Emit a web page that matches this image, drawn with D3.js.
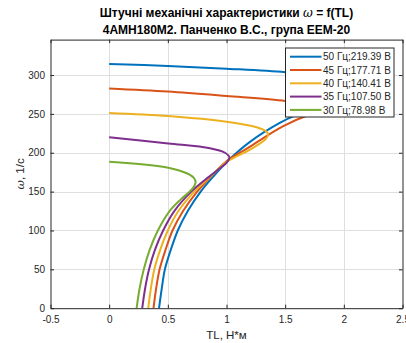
<!DOCTYPE html>
<html>
<head>
<meta charset="utf-8">
<script src="https://cdn.jsdelivr.net/npm/d3@7/dist/d3.min.js"></script>
<style>
  html, body { margin: 0; padding: 0; background: #fff; }
  svg { display: block; font-family: "Liberation Sans", Arial, sans-serif; }
</style>
</head>
<body>
<svg id="chart" width="406" height="343"></svg>
<script>
// Supply frequencies and phase voltages of each characteristic
const frequencies = [50, 45, 40, 35, 30];
const voltages = ["219.39", "177.71", "140.41", "107.50", "78.98"];
const seriesColors = ["#0072BD", "#D95319", "#EDB120", "#7E2F8E", "#77AC30"];

// Torque TL (Н*м) along each curve, from no-load speed down to standstill
const torque50 = [0, 0.5, 1.0, 1.5, 1.85, 2.05, 2.12, 2.05, 1.85, 1.6, 1.45, 1.2, 1.015, 0.885, 0.78, 0.67, 0.585, 0.525, 0.475, 0.448, 0.425];
const omega50  = [314.2, 311.7, 308.2, 303.6, 297, 291, 286, 278, 263, 249, 238, 214, 190, 169, 150, 125, 100, 75, 50, 25, 0];

const torque45 = [0, 0.5, 1.0, 1.5, 1.7, 1.78, 1.76, 1.7, 1.48, 1.18, 1.0, 0.865, 0.75, 0.63, 0.54, 0.48, 0.43, 0.40, 0.378];
const omega45  = [282.7, 278.7, 273, 266.7, 262, 256, 251, 248.6, 234, 206, 189, 169, 150, 125, 100, 75, 50, 25, 0];

const torque40 = [0, 0.5, 1.0, 1.257, 1.343, 1.355, 1.33, 1.2, 1.0, 0.86, 0.725, 0.59, 0.50, 0.435, 0.385, 0.355, 0.333];
const omega40  = [251.3, 247.4, 240, 232.8, 227, 223, 217, 204, 188, 169, 150, 125, 100, 75, 50, 25, 0];

const torque35 = [0, 0.504, 0.859, 0.987, 1.025, 1.0, 0.96, 0.85, 0.70, 0.555, 0.46, 0.39, 0.34, 0.306, 0.282];
const omega35  = [219.9, 212, 205.8, 200, 194, 187, 182, 169, 150, 125, 100, 75, 50, 25, 0];

const torque30 = [0, 0.504, 0.661, 0.72, 0.737, 0.72, 0.685, 0.61, 0.515, 0.415, 0.345, 0.295, 0.259, 0.234];
const omega30  = [188.5, 180.8, 173.6, 168, 162, 156, 150, 140, 125, 100, 75, 50, 25, 0];

const torqueSets = [torque50, torque45, torque40, torque35, torque30];
const omegaSets = [omega50, omega45, omega40, omega35, omega30];

const xTicks = [-0.5, 0, 0.5, 1, 1.5, 2, 2.5];
const yTicks = [0, 50, 100, 150, 200, 250, 300];

const svg = d3.select("#chart");
const plot = { left: 50.5, right: 402.5, top: 39.6, bottom: 308.2 };

const x = d3.scaleLinear().domain([-0.5, 2.5]).range([plot.left, plot.right]);
const y = d3.scaleLinear().domain([0, 345.6]).range([plot.bottom, plot.top]);

const axisColor = "#262626";

// Grid
const grid = svg.append("g").attr("stroke", "#dfdfdf").attr("stroke-width", 1);
grid.selectAll(".gx").data(xTicks.slice(1, -1)).join("line")
  .attr("x1", d => Math.round(x(d)) + 0.5).attr("x2", d => Math.round(x(d)) + 0.5)
  .attr("y1", plot.top).attr("y2", plot.bottom);
grid.selectAll(".gy").data(yTicks.slice(1)).join("line")
  .attr("y1", d => Math.round(y(d)) + 0.5).attr("y2", d => Math.round(y(d)) + 0.5)
  .attr("x1", plot.left).attr("x2", plot.right);

// Curves
const line = d3.line()
  .x(d => x(d[0]))
  .y(d => y(d[1]))
  .curve(d3.curveCatmullRom.alpha(0.5));

svg.append("defs").append("clipPath").attr("id", "plotClip")
  .append("rect").attr("x", plot.left).attr("y", plot.top)
  .attr("width", plot.right - plot.left).attr("height", plot.bottom - plot.top);

const curves = svg.append("g").attr("clip-path", "url(#plotClip)");
torqueSets.forEach((tq, i) => {
  const pts = tq.map((t, k) => [t, omegaSets[i][k]]);
  curves.append("path")
    .datum(pts)
    .attr("d", line)
    .attr("fill", "none")
    .attr("stroke", seriesColors[i])
    .attr("stroke-width", 2)
    .attr("stroke-linejoin", "round");
});

// Axes (box with inward ticks)
const tickLen = 3.5;
const fmt = d => String(d);
const axisBottom = d3.axisBottom(x).tickValues(xTicks).tickSizeInner(-tickLen).tickSizeOuter(0)
  .tickPadding(8).tickFormat(fmt);
const axisLeft = d3.axisLeft(y).tickValues(yTicks).tickSizeInner(-tickLen).tickSizeOuter(0)
  .tickPadding(5.5).tickFormat(fmt);
const axisTop = d3.axisTop(x).tickValues(xTicks).tickSizeInner(-tickLen).tickSizeOuter(0).tickFormat("");
const axisRight = d3.axisRight(y).tickValues(yTicks).tickSizeInner(-tickLen).tickSizeOuter(0).tickFormat("");

function styleAxis(g) {
  g.select(".domain").attr("stroke", axisColor).attr("stroke-width", 1);
  g.selectAll(".tick line").attr("stroke", axisColor);
  g.selectAll(".tick text").attr("fill", axisColor).style("font-size", "10px")
    .style("font-family", "Liberation Sans, Arial, sans-serif");
}

svg.append("g").attr("transform", `translate(0,${plot.bottom})`).call(axisBottom).call(styleAxis);
svg.append("g").attr("transform", `translate(${plot.left},0)`).call(axisLeft).call(styleAxis);
svg.append("g").attr("transform", `translate(0,${plot.top})`).call(axisTop).call(styleAxis);
svg.append("g").attr("transform", `translate(${plot.right},0)`).call(axisRight).call(styleAxis);

// Title
const title = svg.append("text")
  .attr("text-anchor", "middle")
  .attr("fill", "#000")
  .style("font-size", "12px")
  .style("font-weight", "bold");
const t1 = title.append("tspan").attr("x", (plot.left + plot.right) / 2).attr("y", 17);
t1.append("tspan").text("Штучні механічні характеристики ");
t1.append("tspan").style("font-weight", "normal").style("font-style", "italic")
  .style("font-family", "DejaVu Serif, serif").text("ω");
t1.append("tspan").text(" = f(TL)");
title.append("tspan").attr("x", (plot.left + plot.right) / 2).attr("y", 33.5)
  .text("4АМН180М2. Панченко В.С., група ЕЕМ-20");

// Axis labels
svg.append("text")
  .attr("x", (plot.left + plot.right) / 2).attr("y", 339)
  .attr("text-anchor", "middle").attr("fill", axisColor)
  .style("font-size", "11.5px")
  .text("TL, Н*м");

const yl = svg.append("text")
  .attr("transform", `translate(24,${(plot.top + plot.bottom) / 2}) rotate(-90)`)
  .attr("text-anchor", "middle").attr("fill", axisColor)
  .style("font-size", "11.5px");
yl.append("tspan").style("font-style", "italic").style("font-family", "DejaVu Serif, serif").text("ω");
yl.append("tspan").text(", 1/с");

// Legend
const legend = svg.append("g").attr("transform", "translate(285.5,48)");
legend.append("rect")
  .attr("width", 108.5).attr("height", 69)
  .attr("fill", "#fff").attr("stroke", axisColor).attr("stroke-width", 1);
frequencies.forEach((f, i) => {
  const ry = 8.7 + i * 13.3;
  legend.append("line")
    .attr("x1", 4.5).attr("x2", 36)
    .attr("y1", ry).attr("y2", ry)
    .attr("stroke", seriesColors[i]).attr("stroke-width", 2);
  legend.append("text")
    .attr("x", 37.5).attr("y", ry + 3.6)
    .attr("fill", axisColor)
    .style("font-size", "10px")
    .text(`${f} Гц;${voltages[i]} В`);
});
</script>
</body>
</html>
